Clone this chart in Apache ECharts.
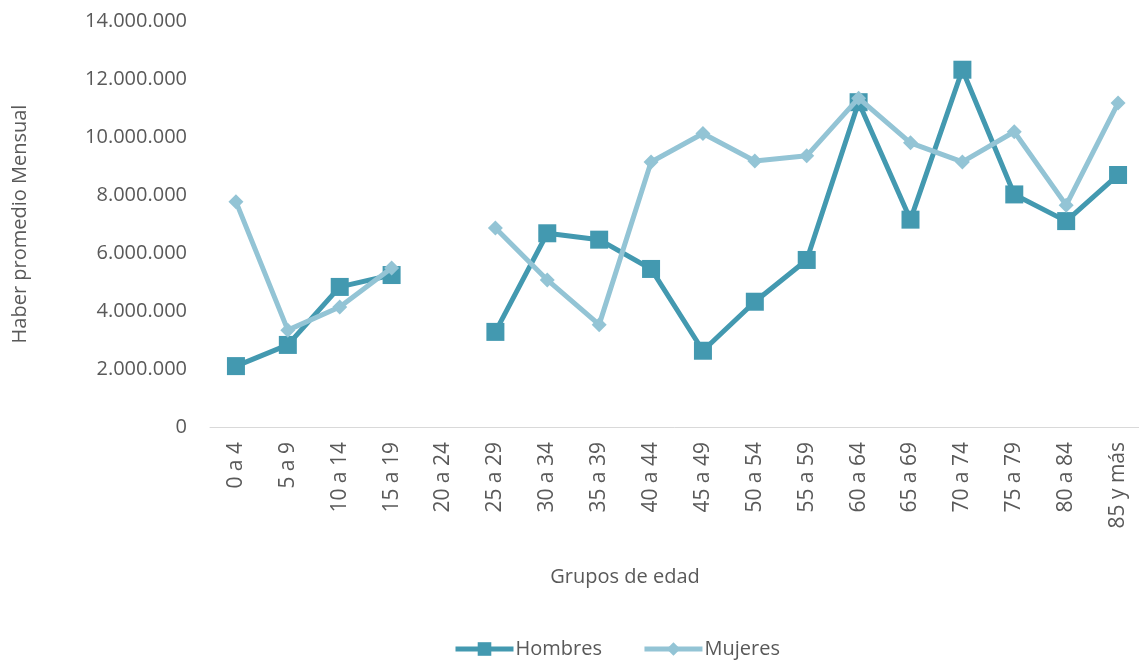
<!DOCTYPE html>
<html>
<head>
<meta charset="utf-8">
<script src="https://cdn.jsdelivr.net/npm/echarts@6/dist/echarts.min.js"></script>
<style>
  html, body { margin: 0; padding: 0; background: #fff; }
  #chart { width: 1139px; height: 662px; }
</style>
</head>
<body>
<div id="chart"></div>
<script>
const categorias = ['0 a 4', '5 a 9', '10 a 14', '15 a 19', '20 a 24', '25 a 29', '30 a 34', '35 a 39',
    '40 a 44', '45 a 49', '50 a 54', '55 a 59', '60 a 64', '65 a 69', '70 a 74', '75 a 79', '80 a 84', '85 y más'];

const hombres = [2100000, 2830000, 4830000, 5240000, null, 3280000, 6680000, 6460000,
    5450000, 2630000, 4320000, 5760000, 11200000, 7150000, 12320000, 8020000, 7100000, 8690000];

const mujeres = [7770000, 3340000, 4140000, 5480000, null, 6860000, 5070000, 3530000,
    9140000, 10120000, 9170000, 9350000, 11340000, 9800000, 9140000, 10180000, 7650000, 11170000];

const colorHombres = '#4399B0';
const colorMujeres = '#93C4D5';
const textColor = '#595959';

var dom = document.getElementById('chart');
var myChart = echarts.init(dom, null, { renderer: 'canvas' });

function fmtMiles(v) {
    return String(v).replace(/\B(?=(\d{3})+(?!\d))/g, '.');
}

const option = {
    animation: false,
    textStyle: { fontFamily: 'Open Sans', color: textColor },
    title: {
        text: 'Grupos de edad',
        left: 620,
        textAlign: 'center',
        top: 562,
        textStyle: { color: textColor, fontSize: 20, fontWeight: 'normal', fontFamily: 'Open Sans' }
    },
    grid: {
        left: 210,
        top: 21,
        width: 934,
        height: 406,
        outerBoundsMode: 'none'
    },
    legend: {
        top: 634,
        left: 448,
        itemWidth: 58,
        itemHeight: 17,
        itemGap: 40,
        textStyle: { color: textColor, fontSize: 20, fontFamily: 'Open Sans', padding: [0, 0, 0, -3] },
        lineStyle: { width: 5 },
        data: ['Hombres', 'Mujeres']
    },
    xAxis: {
        type: 'category',
        data: categorias,
        boundaryGap: true,
        axisLine: { show: true, lineStyle: { color: '#D9D9D9', width: 1 } },
        axisTick: { show: false },
        axisLabel: {
            rotate: 90,
            interval: 0,
            color: textColor,
            fontSize: 21,
            margin: 15
        },
        splitLine: { show: false }
    },
    yAxis: {
        type: 'value',
        min: 0,
        max: 14000000,
        interval: 2000000,
        name: 'Haber promedio Mensual',
        nameLocation: 'middle',
        nameGap: 180,
        nameTextStyle: { color: textColor, fontSize: 20 },
        axisLine: { show: false },
        axisTick: { show: false },
        splitLine: { show: false },
        axisLabel: {
            color: textColor,
            fontSize: 20,
            margin: 23,
            formatter: fmtMiles
        }
    },
    series: [
        {
            name: 'Hombres',
            type: 'line',
            data: hombres,
            connectNulls: false,
            symbol: 'rect',
            symbolSize: 18,
            lineStyle: { color: colorHombres, width: 5 },
            itemStyle: { color: colorHombres },
            z: 2
        },
        {
            name: 'Mujeres',
            type: 'line',
            data: mujeres,
            connectNulls: false,
            symbol: 'diamond',
            symbolSize: 15,
            lineStyle: { color: colorMujeres, width: 5 },
            itemStyle: { color: colorMujeres },
            z: 3
        }
    ]
};

myChart.setOption(option);
window.addEventListener('resize', myChart.resize);
</script>
</body>
</html>
